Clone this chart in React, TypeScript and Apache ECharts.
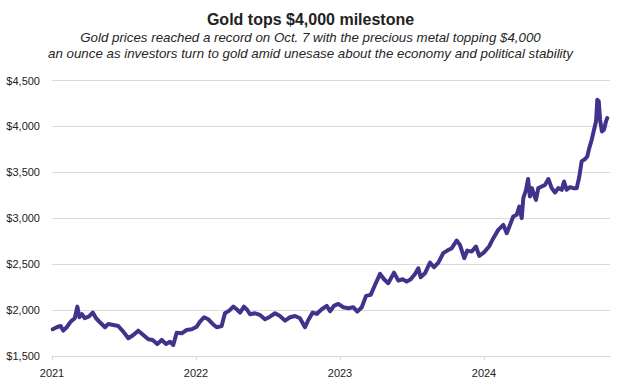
import React, { useEffect, useRef } from "react";
import * as echarts from "echarts";

const TITLE = "Gold tops $4,000 milestone";
const SUBTITLE_LINES = [
  "Gold prices reached a record on Oct. 7 with the precious metal topping $4,000",
  "an ounce as investors turn to gold amid unesase about the economy and political stability",
];

const yearTicks = [2021, 2022, 2023, 2024];
const priceTicks = [1500, 2000, 2500, 3000, 3500, 4000, 4500];

// time in decimal years (as labelled on the axis)
const years = [
  2021.005, 2021.033, 2021.06, 2021.078, 2021.102, 2021.13, 2021.158, 2021.176, 2021.19, 2021.208,
  2021.227, 2021.255, 2021.283, 2021.306, 2021.333, 2021.368, 2021.391, 2021.426, 2021.46, 2021.495,
  2021.53, 2021.565, 2021.599, 2021.634, 2021.669, 2021.699, 2021.731, 2021.762, 2021.792, 2021.819,
  2021.842, 2021.866, 2021.901, 2021.935, 2021.97, 2022.005, 2022.028, 2022.056, 2022.085, 2022.116,
  2022.144, 2022.178, 2022.201, 2022.231, 2022.259, 2022.283, 2022.306, 2022.333, 2022.356, 2022.375,
  2022.41, 2022.444, 2022.479, 2022.514, 2022.549, 2022.583, 2022.618, 2022.653, 2022.688, 2022.722,
  2022.757, 2022.78, 2022.81, 2022.838, 2022.873, 2022.908, 2022.931, 2022.958, 2022.988, 2023.023,
  2023.058, 2023.092, 2023.12, 2023.151, 2023.181, 2023.213, 2023.243, 2023.278, 2023.306, 2023.335,
  2023.375, 2023.405, 2023.435, 2023.463, 2023.491, 2023.521, 2023.544, 2023.56, 2023.59, 2023.625,
  2023.653, 2023.683, 2023.717, 2023.745, 2023.776, 2023.81, 2023.833, 2023.863, 2023.884, 2023.915,
  2023.944, 2023.967, 2024.0, 2024.035, 2024.065, 2024.099, 2024.134, 2024.158, 2024.181, 2024.203,
  2024.227, 2024.245, 2024.262, 2024.273, 2024.292, 2024.306, 2024.319, 2024.333, 2024.347, 2024.361,
  2024.377, 2024.401, 2024.424, 2024.447, 2024.47, 2024.493, 2024.516, 2024.54, 2024.556, 2024.574,
  2024.597, 2024.62, 2024.644, 2024.662, 2024.678, 2024.701, 2024.717, 2024.731, 2024.748, 2024.764,
  2024.778, 2024.787, 2024.797, 2024.806, 2024.819, 2024.833, 2024.847, 2024.856,
];

// gold price, US$ per ounce
const prices = [
  1794, 1816, 1830, 1779, 1816, 1877, 1914, 2040, 1925, 1960,
  1914, 1931, 1975, 1914, 1870, 1816, 1852, 1841, 1830, 1768,
  1696, 1732, 1779, 1732, 1685, 1678, 1634, 1678, 1634, 1659,
  1623, 1757, 1750, 1786, 1794, 1822, 1877, 1925, 1903, 1852,
  1816, 1830, 1968, 1997, 2040, 2012, 1975, 2040, 2004, 1957,
  1968, 1950, 1903, 1931, 1968, 1939, 1888, 1925, 1939, 1914,
  1816, 1895, 1975, 1961, 2012, 2048, 1990, 2048, 2070, 2034,
  2023, 2034, 1986, 2034, 2157, 2168, 2276, 2396, 2338, 2295,
  2410, 2323, 2338, 2312, 2338, 2396, 2458, 2360, 2403, 2519,
  2469, 2519, 2622, 2650, 2676, 2759, 2712, 2567, 2650, 2639,
  2694, 2592, 2630, 2694, 2785, 2875, 2930, 2839, 2930, 3020,
  3039, 3129, 3003, 3221, 3311, 3428, 3238, 3329, 3257, 3202,
  3329, 3347, 3365, 3428, 3329, 3282, 3329, 3311, 3401, 3311,
  3340, 3329, 3329, 3456, 3619, 3645, 3674, 3765, 3856, 3965,
  4055, 4291, 4273, 4073, 3946, 3965, 4055, 4092,
];

const fmtPrice = (v: number) => "$" + v.toLocaleString("en-US");

export default function App() {
  const ref = useRef<HTMLDivElement>(null);
  useEffect(() => {
    if (!ref.current) return;
    const chart = echarts.init(ref.current, null, { renderer: "svg" });
    const font = "'Liberation Sans', Arial, sans-serif";
    const subStyle = {
      fontFamily: font,
      fontSize: 13.3,
      fontStyle: "italic",
      fontWeight: "normal",
      color: "#262626",
      lineHeight: 16,
    };
    chart.setOption({
      animation: false,
      backgroundColor: "#ffffff",
      textStyle: { fontFamily: font },
      title: [
        {
          text: TITLE,
          left: "center",
          top: 5,
          textStyle: { fontFamily: font, fontSize: 16, fontWeight: "bold", color: "#222222", lineHeight: 18 },
        },
        { text: SUBTITLE_LINES[0], left: "center", top: 24, textStyle: subStyle },
        { text: SUBTITLE_LINES[1], left: "center", top: 40, textStyle: subStyle },
      ],
      grid: { left: 52, right: 11, top: 80.5, bottom: 29.7, containLabel: false },
      xAxis: {
        type: "value",
        min: 2021,
        max: 2024.875,
        interval: 1,
        axisLine: { show: true, lineStyle: { color: "#d9d9d9", width: 1 } },
        axisTick: { show: true, length: 4, lineStyle: { color: "#d9d9d9" }, customValues: yearTicks },
        axisLabel: {
          customValues: yearTicks,
          formatter: (v: number) => String(Math.round(v)),
          color: "#222222",
          fontSize: 11,
          margin: 11,
          fontFamily: font,
        },
        splitLine: { show: false },
      },
      yAxis: {
        type: "value",
        min: priceTicks[0],
        max: priceTicks[priceTicks.length - 1],
        interval: 500,
        axisLine: { show: false },
        axisTick: { show: false },
        axisLabel: {
          formatter: fmtPrice,
          color: "#222222",
          fontSize: 11,
          margin: 12,
          fontFamily: font,
        },
        splitLine: { show: true, lineStyle: { color: "#d9d9d9", width: 1 } },
      },
      series: [
        {
          type: "line",
          data: years.map((y, i) => [y, prices[i]]),
          showSymbol: false,
          symbol: "none",
          lineStyle: { color: "#41328c", width: 4, join: "round", cap: "round" },
          z: 3,
        },
      ],
    });
    return () => chart.dispose();
  }, []);
  return (
    <div
      ref={ref}
      style={{ position: "absolute", left: 0, top: 0, width: 621, height: 386, background: "#fff" }}
    />
  );
}
